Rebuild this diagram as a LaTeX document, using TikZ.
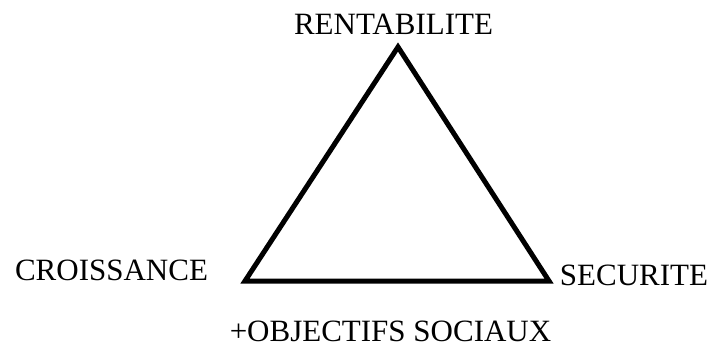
\documentclass[tikz,border=0pt]{standalone}
\usepackage{fontspec}
\setmainfont{Liberation Serif}
\usepackage{xcolor}
\definecolor{cMain}{HTML}{000000}
\usepackage{tikz}
\usetikzlibrary{positioning,calc}
\tikzset{
  node-label/.style={inner sep=0pt,anchor=base,text=cMain,
    font=\fontsize{31}{34}\selectfont},
  edge-tri/.style={draw=cMain,line width=5pt,line join=miter},
}

\begin{document}
\begin{tikzpicture}[x=1pt,y=-1pt]
  \useasboundingbox (0,0) rectangle (708,347);
  % sommets du triangle
  \coordinate (top) at (398,47);
  \coordinate (left) at (245,281);
  \coordinate (right) at (549,281);
  \draw[edge-tri] (top) -- (left) -- (right) -- cycle;
  % libellés
  \node[node-label] (rent) at (393.5,35) {RENTABILITE};
  \node[node-label] (crois) at (111.5,280) {CROISSANCE};
  \node[node-label] (secu) at (634,285) {SECURITE};
  \node[node-label] (obj) at (390.5,341) {+OBJECTIFS SOCIAUX};
\end{tikzpicture}
\end{document}
